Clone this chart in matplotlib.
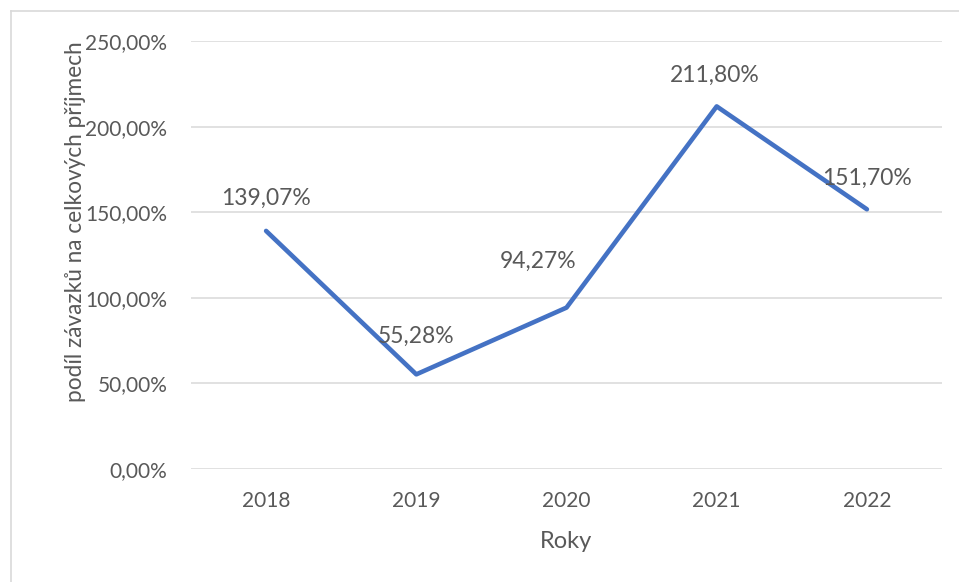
import matplotlib.pyplot as plt
from matplotlib.lines import Line2D

roky = ['2018', '2019', '2020', '2021', '2022']
podil = [139.07, 55.28, 94.27, 211.80, 151.70]
popisky = ['139,07%', '55,28%', '94,27%', '211,80%', '151,70%']

plt.rcParams['font.family'] = ['Lato', 'DejaVu Sans']
sedá = '#595959'

fig = plt.figure(figsize=(9.59, 5.82), dpi=100)
W, H = 959, 582
ax = fig.add_axes([191 / W, 1 - 469 / H, (942 - 191) / W, (469 - 41) / H])

x = range(len(roky))
ax.plot(x, podil, color='#4472C4', linewidth=3.3, solid_capstyle='round', zorder=3)

# posun popisků (px) – popisek 2020 je posunutý doleva
posuny = [(0, 33), (0, 38), (-28, 46), (-2, 31), (0, 31)]
for i, (v, t) in enumerate(zip(podil, popisky)):
    dx, dy = posuny[i]
    ax.annotate(t, (i, v), xytext=(dx * 0.72, dy * 0.72), textcoords='offset points',
                ha='center', va='center', fontsize=16.5, color=sedá)

ax.set_xlim(-0.5, len(roky) - 0.5)
ax.set_ylim(0, 250)
ax.set_yticks([0, 50, 100, 150, 200, 250])
ax.set_yticklabels([f'{v:.2f}'.replace('.', ',') + '%' for v in [0, 50, 100, 150, 200, 250]])
ax.set_xticks(list(x))
ax.set_xticklabels(roky)
ax.tick_params(length=0, labelsize=15, labelcolor=sedá)
ax.tick_params(axis='y', pad=17)
ax.tick_params(axis='x', pad=16)
ax.grid(axis='y', color='#D9D9D9', linewidth=1.1)
for s in ax.spines.values():
    s.set_visible(False)
ax.set_axisbelow(True)

ax.set_xlabel('Roky', fontsize=17, color=sedá, labelpad=14)
ax.set_ylabel('podíl závazků na celkových příjmech', fontsize=16.3, color=sedá, va='center')
ax.yaxis.set_label_coords((75 - 191) / 751, (469 - 222) / 428)

# okraj grafu
fig.add_artist(Line2D([11 / W, 1], [1 - 11 / H, 1 - 11 / H], color='#D9D9D9', linewidth=1.2))
fig.add_artist(Line2D([11 / W, 11 / W], [0, 1 - 11 / H], color='#D9D9D9', linewidth=1.2))

fig.savefig('out.png', dpi=100)
